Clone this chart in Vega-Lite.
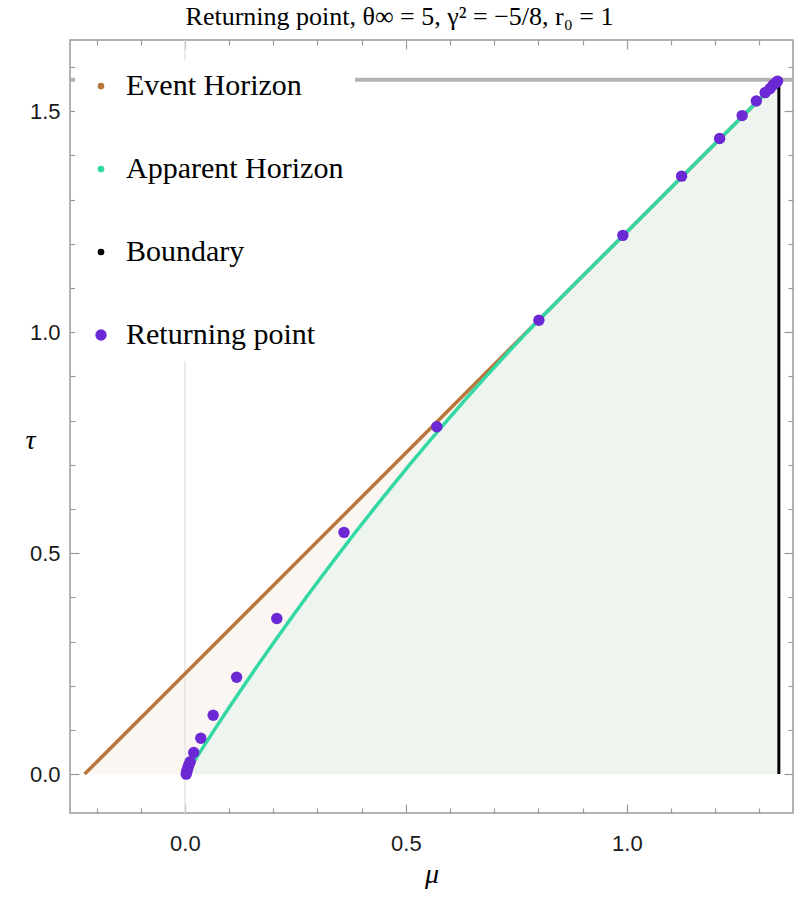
{
  "$schema": "https://vega.github.io/schema/vega-lite/v6.json",
  "width": 723,
  "height": 773,
  "autosize": {"type": "none"},
  "padding": {"left": 70, "top": 40, "right": 4, "bottom": 85},
  "background": "white",
  "title": {
    "text": "Returning point, θ∞ = 5, γ² = −5/8, r₀ = 1",
    "font": "Liberation Serif",
    "fontSize": 26,
    "fontWeight": "normal",
    "color": "black",
    "anchor": "middle",
    "dx": -32,
    "offset": 9
  },
  "config": {
    "view": {"stroke": "#9a9a9a", "strokeWidth": 1.5},
    "axis": {
      "grid": false,
      "domain": false,
      "tickColor": "#9a9a9a",
      "tickWidth": 1.2,
      "labelFont": "Liberation Sans",
      "labelFontSize": 22,
      "labelColor": "#1a1a1a"
    }
  },
  "datasets": {
    "eh": [
      {"mu": -0.227, "tau": 0.0},
      {"mu": 1.344, "tau": 1.5708}
    ],
    "ah": [
      {"mu": 0.0069, "tau": 0.007},
      {"mu": 0.0202, "tau": 0.028},
      {"mu": 0.0406, "tau": 0.06},
      {"mu": 0.0666, "tau": 0.10},
      {"mu": 0.0996, "tau": 0.15},
      {"mu": 0.1333, "tau": 0.20},
      {"mu": 0.1676, "tau": 0.25},
      {"mu": 0.2026, "tau": 0.30},
      {"mu": 0.2383, "tau": 0.35},
      {"mu": 0.2746, "tau": 0.40},
      {"mu": 0.3117, "tau": 0.45},
      {"mu": 0.3496, "tau": 0.50},
      {"mu": 0.3881, "tau": 0.55},
      {"mu": 0.4275, "tau": 0.60},
      {"mu": 0.4676, "tau": 0.65},
      {"mu": 0.5086, "tau": 0.70},
      {"mu": 0.5504, "tau": 0.75},
      {"mu": 0.5932, "tau": 0.80},
      {"mu": 0.6369, "tau": 0.85},
      {"mu": 0.6816, "tau": 0.90},
      {"mu": 0.7274, "tau": 0.95},
      {"mu": 0.7745, "tau": 1.00},
      {"mu": 0.8232, "tau": 1.05},
      {"mu": 0.9732, "tau": 1.20},
      {"mu": 1.1732, "tau": 1.40},
      {"mu": 1.344, "tau": 1.5708}
    ],
    "bnd": [
      {"mu": 1.344, "tau0": 0.0, "tau1": 1.5708}
    ],
    "refs": [
      {"zero": 0, "top": 1.5708}
    ],
    "pts": [
      {"series": "Returning point", "mu": 0.003, "tau": 0.000},
      {"series": "Returning point", "mu": 0.004, "tau": 0.004},
      {"series": "Returning point", "mu": 0.005, "tau": 0.009},
      {"series": "Returning point", "mu": 0.007, "tau": 0.015},
      {"series": "Returning point", "mu": 0.009, "tau": 0.021},
      {"series": "Returning point", "mu": 0.012, "tau": 0.028},
      {"series": "Returning point", "mu": 0.020, "tau": 0.049},
      {"series": "Returning point", "mu": 0.036, "tau": 0.081},
      {"series": "Returning point", "mu": 0.064, "tau": 0.133},
      {"series": "Returning point", "mu": 0.117, "tau": 0.219},
      {"series": "Returning point", "mu": 0.208, "tau": 0.352},
      {"series": "Returning point", "mu": 0.360, "tau": 0.547},
      {"series": "Returning point", "mu": 0.570, "tau": 0.786},
      {"series": "Returning point", "mu": 0.801, "tau": 1.027},
      {"series": "Returning point", "mu": 0.991, "tau": 1.219},
      {"series": "Returning point", "mu": 1.124, "tau": 1.353},
      {"series": "Returning point", "mu": 1.210, "tau": 1.438},
      {"series": "Returning point", "mu": 1.261, "tau": 1.490},
      {"series": "Returning point", "mu": 1.293, "tau": 1.523},
      {"series": "Returning point", "mu": 1.313, "tau": 1.542},
      {"series": "Returning point", "mu": 1.324, "tau": 1.551},
      {"series": "Returning point", "mu": 1.331, "tau": 1.559},
      {"series": "Returning point", "mu": 1.337, "tau": 1.564},
      {"series": "Returning point", "mu": 1.341, "tau": 1.568}
    ]
  },
  "resolve": {"axis": {"x": "independent", "y": "independent"}},
  "layer": [
    {
      "data": {"name": "eh"},
      "mark": {"type": "area", "color": "#fbf6f1"},
      "encoding": {
        "x": {"field": "mu", "type": "quantitative",
              "scale": {"domain": [-0.26, 1.376], "nice": false, "zero": false},
              "axis": {"orient": "bottom", "values": [0, 0.5, 1], "format": ".1f", "ticks": false,
                       "labelPadding": 20, "title": "μ", "titleFont": "Liberation Serif",
                       "titleFontStyle": "italic", "titleFontWeight": "normal", "titleFontSize": 28,
                       "titlePadding": 6, "titleColor": "black"}},
        "y": {"field": "tau", "type": "quantitative",
              "scale": {"domain": [-0.088, 1.661], "nice": false, "zero": false},
              "axis": {"orient": "left", "values": [0, 0.5, 1, 1.5], "format": ".1f", "ticks": false,
                       "labelPadding": 10, "title": "τ", "titleAngle": 0, "titleX": -40, "titleY": 400,
                       "titleAlign": "center", "titleBaseline": "middle", "titleFont": "Liberation Serif",
                       "titleFontStyle": "italic", "titleFontWeight": "normal", "titleFontSize": 28,
                       "titleColor": "black"}},
        "y2": {"datum": 0}
      }
    },
    {
      "data": {"name": "ah"},
      "mark": {"type": "area", "color": "#eef5ee", "interpolate": "monotone"},
      "encoding": {
        "x": {"field": "mu", "type": "quantitative",
              "axis": {"orient": "bottom", "values": [0, 0.5, 1], "labels": false, "title": null,
                       "tickSize": 9, "offset": -9}},
        "y": {"field": "tau", "type": "quantitative",
              "axis": {"orient": "left", "values": [0, 0.5, 1, 1.5], "labels": false, "title": null,
                       "tickSize": 9, "offset": -9}},
        "y2": {"datum": 0}
      }
    },
    {
      "data": {"name": "refs"},
      "mark": {"type": "rule", "color": "#e4e4e4", "strokeWidth": 1.5},
      "encoding": {
        "x": {"field": "zero", "type": "quantitative", "axis": null}
      }
    },
    {
      "data": {"name": "refs"},
      "mark": {"type": "rule", "color": "#b3b3b3", "strokeWidth": 4},
      "encoding": {
        "y": {"field": "top", "type": "quantitative", "axis": null}
      }
    },
    {
      "data": {"name": "eh"},
      "mark": {"type": "line", "color": "#b8763a", "strokeWidth": 3.5},
      "encoding": {
        "x": {"field": "mu", "type": "quantitative",
              "axis": {"orient": "bottom", "values": [-0.2, -0.1, 0.1, 0.2, 0.3, 0.4, 0.6, 0.7, 0.8, 0.9, 1.1, 1.2, 1.3],
                       "labels": false, "title": null, "tickSize": 5, "offset": -5}},
        "y": {"field": "tau", "type": "quantitative",
              "axis": {"orient": "left", "values": [0.1, 0.2, 0.3, 0.4, 0.6, 0.7, 0.8, 0.9, 1.1, 1.2, 1.3, 1.4, 1.6],
                       "labels": false, "title": null, "tickSize": 5, "offset": -5}}
      }
    },
    {
      "data": {"name": "ah"},
      "mark": {"type": "line", "color": "#33d8a5", "strokeWidth": 3.5, "interpolate": "monotone"},
      "encoding": {
        "x": {"field": "mu", "type": "quantitative",
              "axis": {"orient": "top", "values": [0, 0.5, 1], "labels": false, "title": null,
                       "tickSize": 9, "offset": -9}},
        "y": {"field": "tau", "type": "quantitative",
              "axis": {"orient": "right", "values": [0, 0.5, 1, 1.5], "labels": false, "title": null,
                       "tickSize": 9, "offset": -9}}
      }
    },
    {
      "data": {"name": "bnd"},
      "mark": {"type": "rule", "color": "black", "strokeWidth": 3},
      "encoding": {
        "x": {"field": "mu", "type": "quantitative",
              "axis": {"orient": "top", "values": [-0.2, -0.1, 0.1, 0.2, 0.3, 0.4, 0.6, 0.7, 0.8, 0.9, 1.1, 1.2, 1.3],
                       "labels": false, "title": null, "tickSize": 5, "offset": -5}},
        "y": {"field": "tau0", "type": "quantitative",
              "axis": {"orient": "right", "values": [0.1, 0.2, 0.3, 0.4, 0.6, 0.7, 0.8, 0.9, 1.1, 1.2, 1.3, 1.4, 1.6],
                       "labels": false, "title": null, "tickSize": 5, "offset": -5}},
        "y2": {"field": "tau1"}
      }
    },
    {
      "data": {"name": "pts"},
      "mark": {"type": "point", "shape": "circle", "filled": true, "opacity": 1, "size": 130},
      "encoding": {
        "x": {"field": "mu", "type": "quantitative", "axis": null},
        "y": {"field": "tau", "type": "quantitative", "axis": null},
        "color": {
          "field": "series", "type": "nominal",
          "scale": {"domain": ["Event Horizon", "Apparent Horizon", "Boundary", "Returning point"],
                    "range": ["#b8763a", "#33d8a5", "#000000", "#6b28d4"]},
          "legend": {
            "orient": "none", "legendX": 5, "legendY": 20, "title": null,
            "fillColor": "white", "padding": 11,
            "labelFont": "Liberation Serif", "labelFontSize": 30, "labelColor": "black",
            "labelOffset": 10, "labelLimit": 400, "rowPadding": 53,
            "symbolType": "circle", "symbolStrokeWidth": 0, "symbolOpacity": 1,
            "encode": {"symbols": {"update": {"size": {"signal": "datum.value === 'Returning point' ? 130 : 45"}}}}
          }
        }
      }
    }
  ]
}
